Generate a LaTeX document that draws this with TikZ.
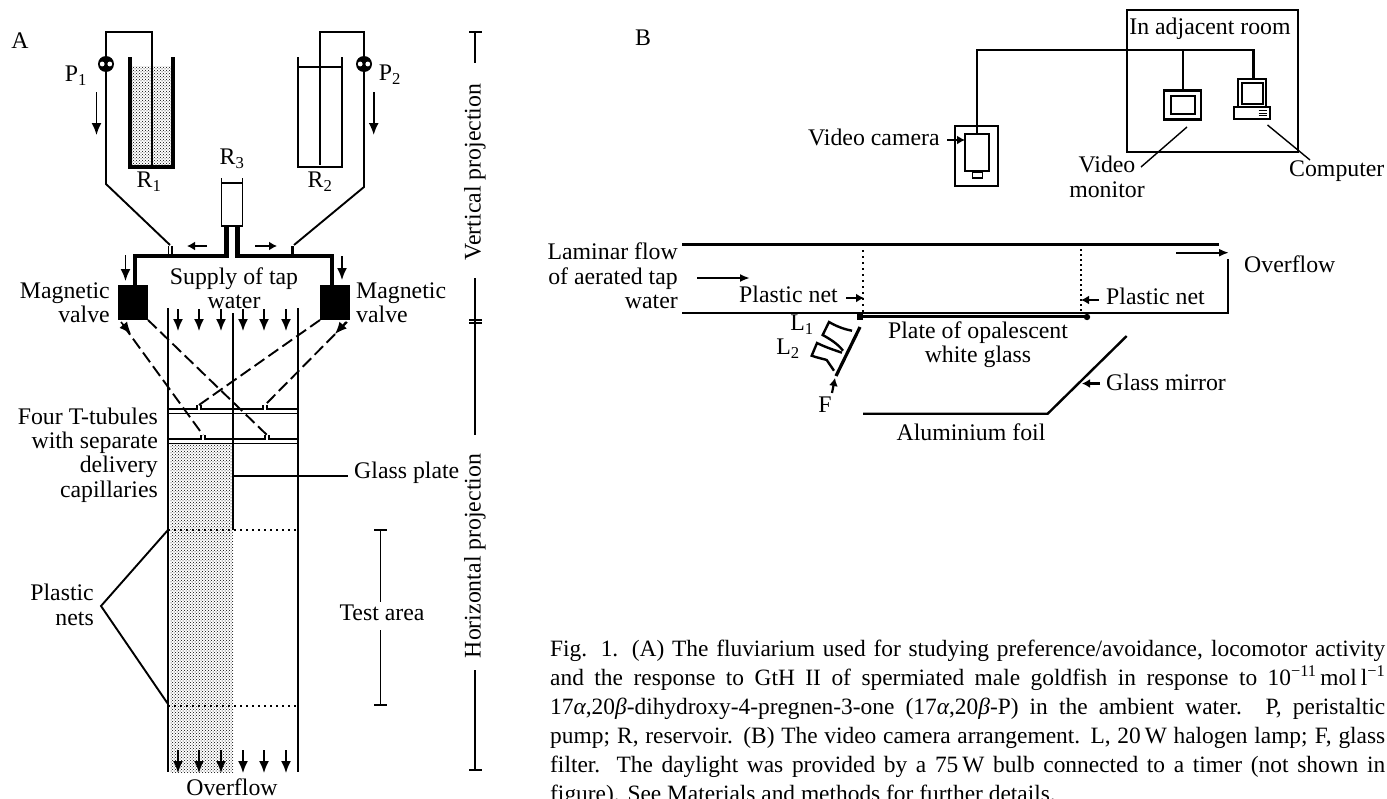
\documentclass[tikz,border=0pt]{standalone}
\usepackage{fontspec}
\setmainfont{Liberation Serif}
\usetikzlibrary{arrows.meta,patterns}
\tikzset{
  pipe/.style={line width=1.9pt},
  wall/.style={line width=2.4pt},
  heavy/.style={line width=4.8pt},
  thin line/.style={line width=1.4pt},
  flow/.style={line width=1.6pt,-{Latex[length=12pt,width=10pt]}},
  small flow/.style={line width=2.2pt,-{Latex[length=8pt,width=9pt]}},
  feed/.style={line width=1.9pt,dash pattern=on 12pt off 5pt},
  net/.style={line width=2.2pt,dash pattern=on 2pt off 4pt},
  stipple/.style={pattern=crosshatch dots,pattern color=black},
  screen/.style={draw,line width=2.4pt,fill=white},
}
\begin{document}
\begin{tikzpicture}[x=1pt,y=-1pt,every node/.style={inner sep=0pt,font=\fontsize{23.8}{24.3}\selectfont}]
\useasboundingbox(0,0)rectangle(1387,798);
\clip(0,0)rectangle(1387,798);
\node at(20,41)(a){A};
\node at(643,38)(b){B};
\node at(76,76)(p1){P\textsubscript{1}};
\node at(390,75)(p2){P\textsubscript{2}};
\node at(149,182)(r1){R\textsubscript{1}};
\node at(320,182)(r2){R\textsubscript{2}};
\node at(232,159)(r3){R\textsubscript{3}};
\node[align=center] at(234,288)(supply){Supply of tap\\water};
\node[align=right,anchor=east] at(110,303)(vleft){Magnetic\\valve};
\node[align=left,anchor=west] at(356,303)(vright){Magnetic\\valve};
\node[align=right,anchor=east] at(158,455)(tubules){Four T-tubules\\with separate\\delivery\\capillaries};
\node[anchor=west] at(354,473)(glass){Glass plate};
\node[align=right,anchor=east] at(94,605)(nets){Plastic\\nets};
\node at(382,613)(test){Test area};
\node at(232,787)(over){Overflow};
\node[rotate=90] at(475,172)(vert){Vertical projection};
\node[rotate=90] at(475,556)(hor){Horizontal projection};
\node[fill=black,minimum width=30pt,minimum height=35pt] at(133,302.5)(v1){};
\node[fill=black,minimum width=30pt,minimum height=35pt] at(334.5,302.5)(v2){};
\path[stipple](132,66)rectangle(171,165);
\path[stipple](170,443)rectangle(233,772);
\draw[pipe](106,64)--(106,32)--(152,32)--(152,165);
\draw[pipe](106,64)--(106,184)--(170,245);
\draw[pipe](364,64)--(364,32)--(320,32)--(320,165);
\draw[pipe](364,64)--(364,187)--(294,245);
\foreach \n/\x in {pump1/106,pump2/364}{
\node[circle,fill=black,minimum size=16pt] at(\x,64)(\n){};
\fill[white](\x-3.8,64)circle(2.4pt)(\x+3.8,64)circle(2.4pt);
}
\draw[line width=3.8pt](130,57)--(130,167)--(173,167)--(173,57);
\draw[line width=2.8pt](298,57)--(298,167)--(342,167)--(342,57);
\draw[wall](298,67)--(342,67);
\draw[pipe](221.5,178)--(221.5,226)--(242.5,226)--(242.5,178)(221.5,183)--(242.5,183);
\draw[heavy](226.5,226)--(226.5,256)--(135,256)--(v1.north-|135,256);
\draw[heavy](237.5,226)--(237.5,256)--(332,256)--(v2.north-|332,256);
\draw[thin line](168.5,246)--(168.5,254)(172,246)--(172,254);
\draw[line width=3pt](292.5,246)--(292.5,254);
\draw[flow](96.5,92)--(96.5,135);
\draw[flow](373.7,92)--(373.7,135);
\draw[small flow](207,246)--(187,246);
\draw[small flow](255,246)--(277,246);
\draw[flow](125.5,255)--(125.5,281);
\draw[flow](342,256)--(342,280);
\draw[wall](168,308)--(168,772);
\draw[wall](298,308)--(298,772);
\draw[thin line](233,313)--(233,530);
\foreach \yy/\xa/\xb in {409/199/265,439/203/267}{
\draw[thin line](168,\yy)--(\xa-2,\yy)--(\xa-2,\yy-4)(\xa+2,\yy-4)--(\xa+2,\yy)--(\xb-2,\yy)--(\xb-2,\yy-4)(\xb+2,\yy-4)--(\xb+2,\yy)--(298,\yy);
\draw[thin line](168,\yy+4.5)--(298,\yy+4.5);
}
\draw[feed](123,325)--(203,435);
\draw[feed](148,320)--(267,435);
\draw[feed](320,320)--(199,405);
\draw[feed](347,322)--(265,405);
\draw[flow](121,322)--(131,334);
\draw[flow](346,322)--(335,334);
\foreach \x in {178,199,221,243,264,286}{
\draw[flow](\x,309)--(\x,331);
\draw[flow](\x,750)--(\x,773);
}
\draw[net](168,530)--(298,530);
\draw[net](168,706)--(298,706);
\coordinate(netapex) at(101,606);
\draw[pipe](168,530)--(netapex)--(168,704);
\coordinate(plate) at(234,476);
\coordinate(platelead) at(348,476);
\draw[pipe](plate)--(platelead);
\coordinate(testtop) at(380.5,530);
\coordinate(testbot) at(380.5,705);
\draw[pipe](testtop)--(380.5,602)(380.5,630)--(testbot);
\draw[pipe](374,530)--(387,530)(374,705)--(387,705);
\draw[pipe](475,32)--(475,63)(469,32)--(482,32);
\draw[pipe](475,278)--(475,435)(469,320)--(482,320)(469,323)--(482,323);
\draw[pipe](475,670)--(475,770)(469,770)--(482,770);
\node[anchor=west] at(808,137)(cam){Video camera};
\node at(1210,29)(adj){In adjacent room};
\node[align=center] at(1107,177)(mon){Video\\monitor};
\node[anchor=west] at(1289,171)(comp){Computer};
\node[draw,line width=2pt,minimum width=171pt,minimum height=142pt] at(1212,81)(room){};
\node[draw,line width=2pt,minimum width=43pt,minimum height=60pt] at(976.5,156)(camout){};
\node[screen,minimum width=24pt,minimum height=37pt] at(977,152.5)(caminn){};
\node[draw,line width=1.6pt,minimum width=10pt,minimum height=6pt,anchor=north] at(977.5,171)(lens){};
\node[screen,minimum width=37pt,minimum height=29pt] at(1182.5,105)(monitor){};
\node[screen,minimum width=24pt,minimum height=18pt] at(1183,105)(moninn){};
\node[screen,minimum width=28pt,minimum height=28pt] at(1252,93)(compscr){};
\node[draw,line width=1.5pt,minimum width=21pt,minimum height=21pt] at(1252.5,93.5)(compinn){};
\node[screen,minimum width=36pt,minimum height=12pt] at(1252,113)(compbase){};
\foreach \yy in {110.7,113.3,115.7}\draw[line width=1.2pt](1258.5,\yy)--(1267,\yy);
\coordinate(cable) at(977,50);
\draw[wall](caminn.north-|cable)--(cable)--(1253.6,50)--(compscr.north-|1253.6,50);
\draw[pipe](1183,50)--(monitor.north-|1183,50);
\draw[small flow](947,140)--(965,140);
\coordinate(monlead) at(1187,127);
\coordinate(monend) at(1141,167);
\coordinate(complead) at(1267.5,125);
\coordinate(compend) at(1310,160);
\draw[thin line](monlead)--(monend);
\draw[thin line](complead)--(compend);
\node[align=right,anchor=east] at(678,276)(lam){Laminar flow\\of aerated tap\\water};
\node[anchor=west] at(739,294)(net1){Plastic net};
\node[anchor=west] at(1106,296)(net2){Plastic net};
\node[anchor=west] at(1244,264)(overb){Overflow};
\node[align=center] at(978,345)(platelbl){Plate of opalescent\\white glass};
\node[anchor=west] at(1106,382)(mirror){Glass mirror};
\node at(971,432)(foil){Aluminium foil};
\node at(802,325)(l1){L\textsubscript{1}};
\node at(788,349)(l2){L\textsubscript{2}};
\node at(825,405)(f){F};
\draw[wall](682,244.3)--(1219,244.3);
\draw[wall](682,312.7)--(1228,312.7)--(1228,259);
\draw[line width=2.4pt,-{Latex[length=10pt,width=8pt]}](697,278)--(750,278);
\draw[line width=2.2pt,-{Latex[length=10pt,width=8pt]}](1176,252.7)--(1229,252.7);
\draw[net](863,244)--(863,312);
\draw[line width=1.6pt,dash pattern=on 2pt off 3pt](1080.7,244)--(1080.7,312);
\draw[small flow](846,298)--(864,298);
\draw[small flow](1099,300)--(1081,300);
\draw[line width=2.8pt](857,316.7)--(1088,316.7);
\fill(856.5,313)rectangle(863,320);
\fill(1087,317)circle(3.2pt);
\draw[line width=3.2pt](860,327)--(836,376);
\draw[wall](852,330.7)..controls(843,329)and(836,326)..(829,322)--(822.7,335)..controls(830,339)and(838,344)..(843,350.7);
\draw[wall](842,352.7)..controls(834,350)and(825,347)..(817,343)--(811.7,355.7)..controls(818,358)and(824,359)..(826.7,360)--(834,370.7);
\draw[small flow](832,393)--(835,378);
\draw[wall](863,413.7)--(1047.7,413.7)--(1126.7,336);
\draw[small flow](1100,383.5)--(1082,383.5);
\node[text width=835pt,align=justify,anchor=north west,font=\fontsize{23.4}{29}\selectfont] at(550,640)(caption){Fig. 1. (A) The fluviarium used for studying preference/avoidance, locomotor activity\linebreak and the response to GtH II of spermiated male goldfish in response to 10\textsuperscript{−11}\,mol\,l\textsuperscript{−1}\linebreak 17\textit{α},20\textit{β}-dihydroxy-4-pregnen-3-one (17\textit{α},20\textit{β}-P) in the ambient water. P, peristaltic\linebreak pump; R, reservoir. (B) The video camera arrangement. L, 20\,W halogen lamp; F, glass\linebreak filter. The daylight was provided by a 75\,W bulb connected to a timer (not shown in\linebreak figure). See Materials and methods for further details.};
\end{tikzpicture}
\end{document}
